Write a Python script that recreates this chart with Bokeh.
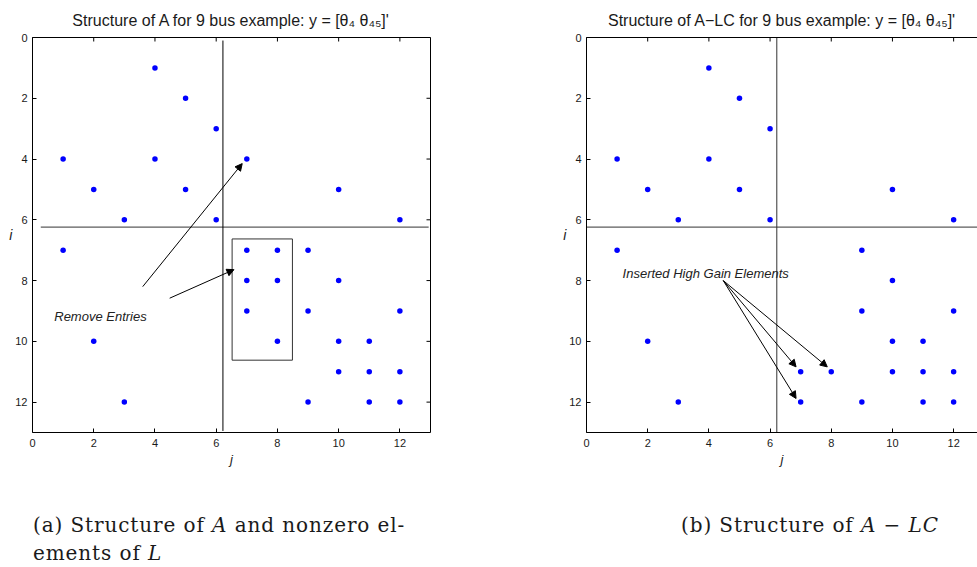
import math

from bokeh.plotting import figure
from bokeh.models import (Range1d, FixedTicker, LinearAxis, Arrow, NormalHead,
                          Div, Label)
from bokeh.layouts import column, row
from bokeh.embed import file_html
from bokeh.resources import INLINE

# Sparsity pattern of A (column index j, row index i)
a_j = [4, 5, 6, 1, 4, 7, 2, 5, 10, 3, 6, 12, 1, 7, 8, 9, 7, 8, 10, 7, 9, 12,
       2, 8, 10, 11, 10, 11, 12, 3, 9, 11, 12]
a_i = [1, 2, 3, 4, 4, 4, 5, 5, 5, 6, 6, 6, 7, 7, 7, 7, 8, 8, 8, 9, 9, 9,
       10, 10, 10, 10, 11, 11, 11, 12, 12, 12, 12]

# Sparsity pattern of A - LC
alc_j = [4, 5, 6, 1, 4, 2, 5, 10, 3, 6, 12, 1, 9, 10, 9, 12, 2, 10, 11,
         7, 8, 10, 11, 12, 3, 7, 9, 11, 12]
alc_i = [1, 2, 3, 4, 4, 5, 5, 5, 6, 6, 6, 7, 7, 8, 9, 9, 10, 10, 10,
         11, 11, 11, 11, 11, 12, 12, 12, 12, 12]

tick_vals = [0, 2, 4, 6, 8, 10, 12]

# partition of the state vector
split_j = 6.22
split_i = 6.24

# block of entries removed by L
box_j = [6.52, 8.49]
box_i = [6.63, 10.62]

# annotation arrows: (x_start, y_start, x_end, y_end)
remove_arrows = [(3.6, 8.2, 6.85, 4.15), (4.48, 8.58, 6.58, 7.64)]
insert_arrows = [(4.47, 8.0, 6.85, 10.84), (4.47, 8.0, 7.87, 10.84),
                 (4.47, 8.0, 6.85, 11.88)]

SANS = "Liberation Sans"
TXT = "#1a1a1a"
N = 13  # matrix size + 1 (axis limit)


def style_axis(ax):
    ax.ticker = FixedTicker(ticks=tick_vals)
    ax.minor_tick_line_color = None
    ax.major_tick_in = 4
    ax.major_tick_out = 0
    ax.axis_line_color = "black"
    ax.major_tick_line_color = "black"
    ax.major_label_text_font = SANS
    ax.major_label_text_color = TXT
    ax.major_label_text_font_size = "11px"


def bare_axis():
    # box edge only: no ticks, no labels
    ax = LinearAxis(ticker=FixedTicker(ticks=[]))
    ax.minor_tick_line_color = None
    ax.major_tick_line_color = None
    ax.axis_line_color = "black"
    return ax


def make_panel(title, width, border_left, border_right, x_end, right_side,
               title_offset=0):
    p = figure(width=width, height=480, x_range=Range1d(0, x_end),
               y_range=Range1d(N, 0), output_backend="svg",
               toolbar_location=None, min_border_left=border_left,
               min_border_right=border_right, min_border_top=36,
               min_border_bottom=48, x_axis_location=None,
               y_axis_location=None, title=title)
    p.title.text_font = SANS
    p.title.text_font_size = "16px"
    p.title.text_font_style = "normal"
    p.title.text_color = TXT
    p.title.align = "center"
    p.title.offset = title_offset
    p.title.standoff = 18
    p.xgrid.visible = False
    p.ygrid.visible = False
    p.background_fill_color = "white"
    p.border_fill_color = "white"
    p.outline_line_color = None

    xb = LinearAxis(axis_label="j")
    style_axis(xb)
    xb.major_label_standoff = 6
    xb.axis_label_text_font = SANS
    xb.axis_label_text_font_style = "italic"
    xb.axis_label_text_font_size = "13px"
    xb.axis_label_text_color = TXT
    xb.axis_label_standoff = 2
    p.add_layout(xb, "below")

    yl = LinearAxis(axis_label="i")
    style_axis(yl)
    yl.major_label_standoff = 5
    yl.axis_label_text_font = SANS
    yl.axis_label_text_font_style = "italic"
    yl.axis_label_text_font_size = "14px"
    yl.axis_label_text_color = TXT
    yl.axis_label_standoff = 0
    yl.axis_label_orientation = "horizontal"
    p.add_layout(yl, "left")

    p.add_layout(bare_axis(), "above")
    # inward ticks along the top edge (the frame clips the outer half)
    p.scatter(x=tick_vals, y=[0] * len(tick_vals), marker="dash", size=8,
              angle=math.pi / 2, line_color="black", line_width=1)
    if right_side:
        p.add_layout(bare_axis(), "right")
        p.scatter(x=[x_end] * len(tick_vals), y=tick_vals, marker="dash",
                  size=8, line_color="black", line_width=1)
    return p


# ---- (a) structure of A ----
p1 = make_panel("Structure of A for 9 bus example: y = [θ\u2084 θ\u2084\u2085]'",
                546, 32, 116, N, True)
p1.segment(x0=[0.27], y0=[split_i], x1=[12.94], y1=[split_i],
           line_color="#333333", line_width=1)
p1.segment(x0=[split_j], y0=[0.1], x1=[split_j], y1=[12.95],
           line_color="black", line_width=1)
p1.quad(left=[box_j[0]], right=[box_j[1]], top=[box_i[0]], bottom=[box_i[1]],
        fill_color=None, line_color="#333333", line_width=1)
p1.scatter(x=a_j, y=a_i, size=5.5, fill_color="#0000ff", line_color=None)
for x0, y0, x1, y1 in remove_arrows:
    p1.add_layout(Arrow(end=NormalHead(size=7, fill_color="black",
                                       line_color="black", line_width=1),
                        x_start=x0, y_start=y0, x_end=x1, y_end=y1,
                        line_color="black", line_width=1))
p1.add_layout(Label(x=0.71, y=9.18, text="Remove Entries", text_font=SANS,
                    text_font_style="italic", text_font_size="13px",
                    text_color="#222222", text_baseline="alphabetic"))

# ---- (b) structure of A - LC ----
p2 = make_panel("Structure of A\u2212LC for 9 bus example: y = [θ\u2084 θ\u2084\u2085]'",
                431, 40, 0, 12.78, False, title_offset=5)
p2.segment(x0=[0], y0=[split_i], x1=[N], y1=[split_i],
           line_color="#333333", line_width=1)
p2.segment(x0=[split_j], y0=[0], x1=[split_j], y1=[N],
           line_color="#333333", line_width=1)
p2.scatter(x=alc_j, y=alc_i, size=5.5, fill_color="#0000ff", line_color=None)
for x0, y0, x1, y1 in insert_arrows:
    p2.add_layout(Arrow(end=NormalHead(size=7, fill_color="black",
                                       line_color="black", line_width=1),
                        x_start=x0, y_start=y0, x_end=x1, y_end=y1,
                        line_color="black", line_width=1))
p2.add_layout(Label(x=1.18, y=7.77, text="Inserted High Gain Elements",
                    text_font=SANS, text_font_style="italic",
                    text_font_size="13px", text_color="#222222",
                    text_baseline="alphabetic"))

# ---- sub-captions ----
cap_style = {"font-family": "DejaVu Serif", "font-size": "20px",
             "line-height": "28px", "letter-spacing": "0.9px",
             "color": "#1a1a1a", "white-space": "nowrap"}
cap_a = Div(text="(a) Structure of <i>A</i> and nonzero el-<br>ements of <i>L</i>",
            width=546, height=87, margin=(0, 0, 0, 0),
            styles=dict(cap_style, **{"padding-top": "31px", "padding-left": "33px"}))
cap_b = Div(text="(b) Structure of <i>A</i> \u2212 <i>LC</i>",
            width=431, height=87, margin=(0, 0, 0, 0),
            styles=dict(cap_style, **{"padding-top": "31px", "padding-left": "135px"}))

layout = column(row(p1, p2, spacing=0), row(cap_a, cap_b, spacing=0), spacing=0)

open("out.html", "w").write(file_html(layout, INLINE))
